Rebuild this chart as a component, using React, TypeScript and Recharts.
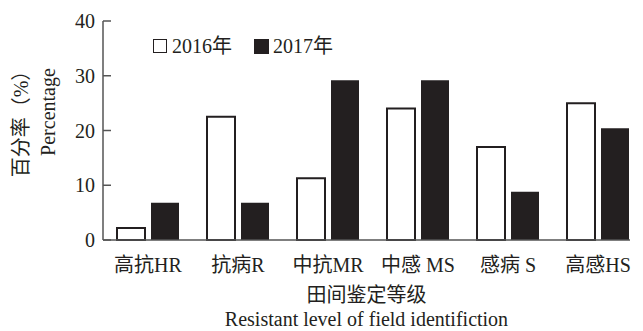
import { BarChart, Bar, XAxis, YAxis, Legend } from "recharts";

const levels = ["高抗HR", "抗病R", "中抗MR", "中感 MS", "感病 S", "高感HS"];
const pct2016 = [2.2, 22.5, 11.3, 24.0, 17.0, 25.0];
const pct2017 = [6.8, 6.8, 29.2, 29.2, 8.8, 20.4];
const yTicks = [0, 10, 20, 30, 40];
const seriesNames = ["2016年", "2017年"];

const data = levels.map((level, i) => ({
  level,
  y2016: pct2016[i],
  y2017: pct2017[i],
}));

const INK = "#231f20";
const FONT = '"Liberation Serif", "Noto Sans CJK SC", serif';

const renderLegend = () => (
  <div style={{ display: "flex", alignItems: "center", fontFamily: FONT, fontSize: 20, color: INK, lineHeight: "22px" }}>
    <span style={{ width: 12, height: 12, border: `1.5px solid ${INK}`, background: "#fff", marginRight: 5 }} />
    <span style={{ marginRight: 22 }}>{seriesNames[0]}</span>
    <span style={{ width: 15, height: 15, background: INK, marginRight: 4 }} />
    <span>{seriesNames[1]}</span>
  </div>
);

// y 轴标题，两行竖排
const YTitle = () => (
  <g fill={INK} fontFamily={FONT} fontSize={20}>
    <text x={21} y={119} transform="rotate(-90 21 119)" textAnchor="middle" dominantBaseline="central">
      百分率（%）
    </text>
    <text x={48} y={112} transform="rotate(-90 48 112)" textAnchor="middle" dominantBaseline="central">
      Percentage
    </text>
  </g>
);

const XTitle = (props: any) => {
  const { viewBox } = props;
  const cx = viewBox.x + viewBox.width / 2;
  return (
    <g fill={INK} fontFamily={FONT} fontSize={20} textAnchor="middle">
      <text x={cx} y={302}>田间鉴定等级</text>
      <text x={cx} y={326}>Resistant level of field identifiction</text>
    </g>
  );
};

export default function App() {
  return (
    <div style={{ position: "absolute", left: 0, top: 0, background: "#fff" }}>
      <BarChart
        width={643}
        height={331}
        data={data}
        margin={{ top: 21, right: 13, bottom: 0, left: 0 }}
        barSize={28}
        barGap={6}
      >
        <XAxis
          dataKey="level"
          axisLine={{ stroke: "#555", strokeWidth: 1.5 }}
          tickLine={false}
          tickSize={0}
          tickMargin={18}
          height={91}
          padding={{ left: 0, right: -13 }}
          interval={0}
          tick={{ fill: INK, fontSize: 20, fontFamily: FONT }}
          label={{ content: XTitle }}
        />
        <YAxis
          domain={[0, 40]}
          ticks={yTicks}
          width={103}
          axisLine={{ stroke: "#555", strokeWidth: 1.5 }}
          tickLine={{ stroke: "#555", strokeWidth: 1.5 }}
          tickSize={-8}
          tickMargin={16}
          tick={{ fill: INK, fontSize: 20, fontFamily: FONT }}
          label={{ content: YTitle }}
        />
        <Legend
          content={renderLegend}
          layout="horizontal"
          verticalAlign="middle"
          align="center"
          wrapperStyle={{ position: "absolute", top: 35, left: 153, width: "auto" }}
        />
        <Bar dataKey="y2016" name={seriesNames[0]} fill="#fff" stroke={INK} strokeWidth={2} isAnimationActive={false} />
        <Bar dataKey="y2017" name={seriesNames[1]} fill={INK} isAnimationActive={false} />
      </BarChart>
    </div>
  );
}
